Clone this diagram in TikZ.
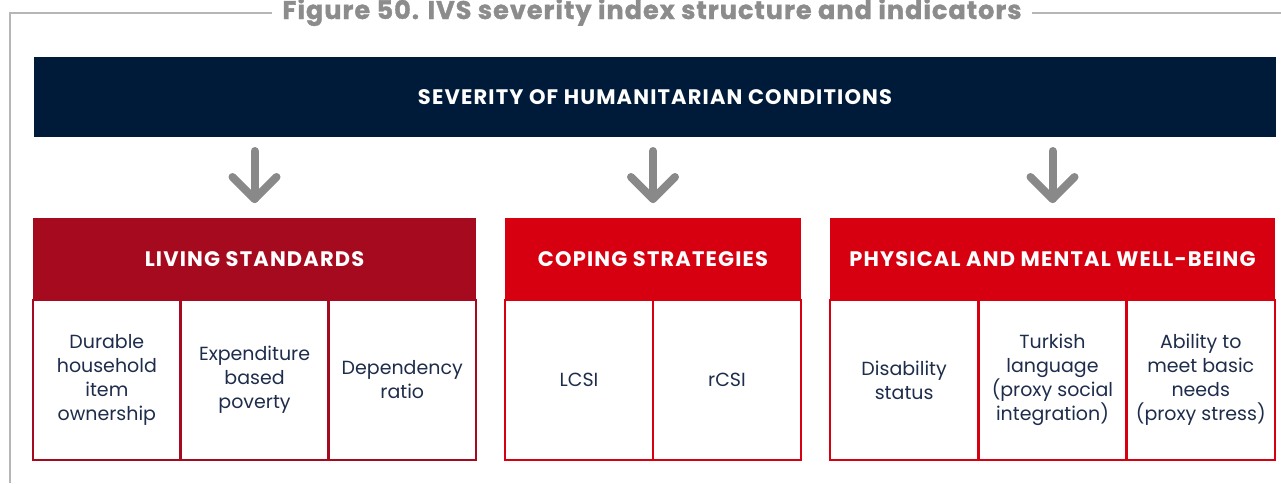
\documentclass[tikz,border=0pt]{standalone}
\usepackage{fontspec}
\setmainfont{Poppins}[BoldFeatures={LetterSpace=5.5}]
\newfontfamily\titlefont{Poppins}[BoldFeatures={FakeBold=1.2, LetterSpace=4}]
\usetikzlibrary{positioning, arrows.meta}
\usepackage{xcolor}
\definecolor{cNavy}{RGB}{0,27,58}
\definecolor{cDarkRed}{RGB}{165,10,30}
\definecolor{cRed}{RGB}{214,0,16}
\definecolor{cArrow}{RGB}{137,137,137}
\definecolor{cFrame}{RGB}{182,182,182}
\definecolor{cTitle}{RGB}{140,140,140}
\definecolor{cText}{RGB}{30,45,75}
\tikzset{
  basebox/.style={rectangle, inner sep=0pt, outer sep=0pt, align=center},
  topbox/.style={basebox, fill=cNavy, text=white,
                 font=\fontsize{21}{24}\selectfont\bfseries,
                 minimum width=1242pt, minimum height=80pt},
  headbox/.style={basebox, text=white, minimum height=82pt,
                  font=\fontsize{21}{24}\selectfont\bfseries},
  cellbox/.style={basebox, draw, line width=2.5pt, fill=white, text=cText,
                  minimum height=160pt,
                  font=\fontsize{19}{24}\selectfont},
  titlebox/.style={basebox, fill=white, text=cTitle, inner xsep=10pt, inner ysep=2pt,
                   font=\titlefont\fontsize{25.5}{28}\selectfont\bfseries},
  downarrow/.style={line width=8pt, line cap=round, line join=round, color=cArrow},
  frameline/.style={line width=2pt, color=cFrame}
}

\begin{document}
\begin{tikzpicture}[x=1pt, y=-1pt]
  \useasboundingbox (0,0) rectangle (1281,483);

  % Frame and title
  \draw[frameline] (10,483) -- (10,13) -- (1281,13);
  \node[titlebox, anchor=base] (title) at (652,19) {Figure 50. IVS severity index structure and indicators};

  % Top box
  \node[topbox] (top) at (655,97) {SEVERITY OF HUMANITARIAN CONDITIONS};

  % Headers
  \node[headbox, fill=cDarkRed, minimum width=443pt] (lhead) at (254.5,259) {LIVING STANDARDS};
  \node[headbox, fill=cRed, minimum width=296pt] (chead) at (653,259) {COPING STRATEGIES};
  \node[headbox, fill=cRed, minimum width=445pt] (phead) at (1052.5,259) {PHYSICAL AND MENTAL WELL-BEING};

  % Living standards
  \node[cellbox, draw=cDarkRed, minimum width=147.7pt, below right=0pt and 0pt of lhead.south west] (l1)
      {Durable\\household\\item\\ownership};
  \node[cellbox, draw=cDarkRed, minimum width=147.7pt, right=0pt of l1] (l2)
      {Expenditure\\based\\poverty};
  \node[cellbox, draw=cDarkRed, minimum width=147.7pt, right=0pt of l2] (l3)
      {Dependency\\ratio};

  % Coping strategies
  \node[cellbox, draw=cRed, minimum width=148pt, below right=0pt and 0pt of chead.south west] (c1) {LCSI};
  \node[cellbox, draw=cRed, minimum width=148pt, right=0pt of c1] (c2) {rCSI};

  % Physical and mental well-being
  \node[cellbox, draw=cRed, minimum width=148.3pt, below right=0pt and 0pt of phead.south west] (p1)
      {Disability\\status};
  \node[cellbox, draw=cRed, minimum width=148.3pt, right=0pt of p1] (p2)
      {Turkish\\language\\(proxy social\\integration)};
  \node[cellbox, draw=cRed, minimum width=148.3pt, right=0pt of p2] (p3)
      {Ability to\\meet basic\\needs\\(proxy stress)};

  % Arrows
  \foreach \h in {lhead,chead,phead} {
    \coordinate (tip\h) at ([yshift=19pt]\h.north);
    \draw[downarrow] ([yshift=-14pt]top.south -| \h.north) -- (tip\h);
    \draw[downarrow] ([shift={(-22pt,22pt)}]tip\h) -- (tip\h) -- ([shift={(22pt,22pt)}]tip\h);
  }
\end{tikzpicture}
\end{document}
